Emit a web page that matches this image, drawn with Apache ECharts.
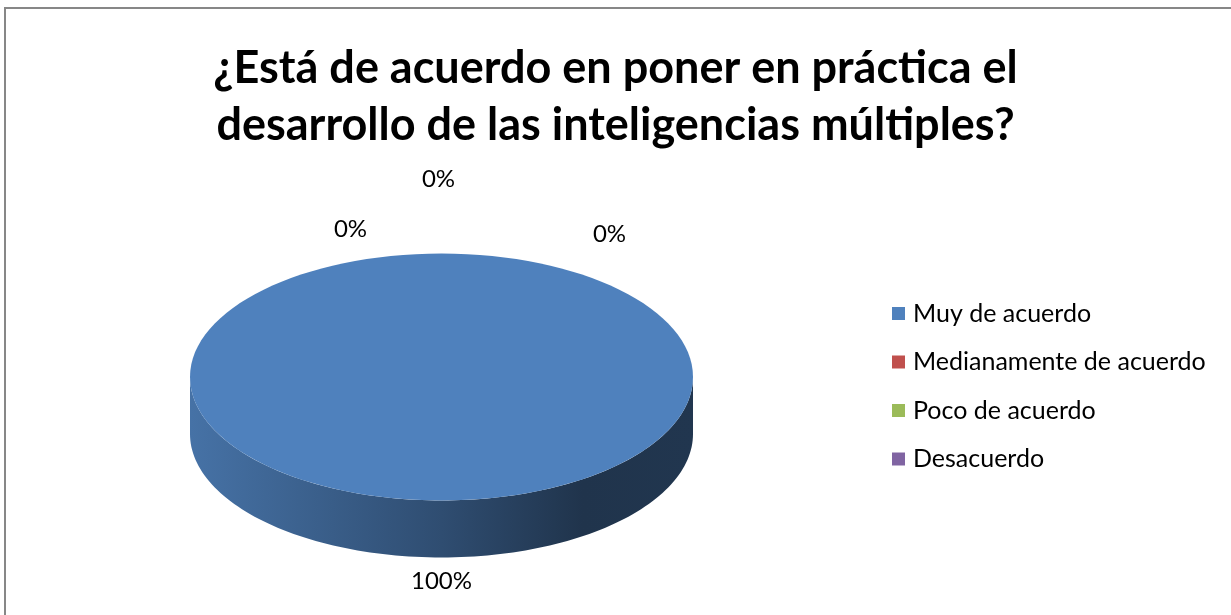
<!DOCTYPE html>
<html>
<head>
<meta charset="UTF-8">
<title>Inteligencias múltiples</title>
<script src="https://cdn.jsdelivr.net/npm/echarts@6/dist/echarts.min.js"></script>
<style>
    html, body {
        margin: 0;
        padding: 0;
        background: #fff;
    }

    #chart {
        width: 1231px;
        height: 615px;
    }
</style>
</head>
<body>
<div id="chart"></div>
<script>
    var titleText = '¿Está de acuerdo en poner en práctica el\ndesarrollo de las inteligencias múltiples?';
    var categories = ['Muy de acuerdo', 'Medianamente de acuerdo', 'Poco de acuerdo', 'Desacuerdo'];
    var values = [100, 0, 0, 0];
    var colors = ['#4f81bd', '#c0504d', '#9bbb59', '#8064a2'];

    // flattened 3d pie, in pixels
    var pie = {cx: 441.5, cy: 377, rx: 251.5, ry: 123.5, depth: 57};
    // Excel pushes the overlapping labels of the zero slices apart
    var labelNudge = [[0, 0], [-91, 0], [-3, -50], [168, 5]];

    var total = values.reduce(function (a, b) { return a + b; }, 0);

    function shade(hex, k) {
        var n = parseInt(hex.slice(1), 16);
        var r = Math.round(((n >> 16) & 255) * k);
        var g = Math.round(((n >> 8) & 255) * k);
        var b = Math.round((n & 255) * k);
        return 'rgb(' + r + ',' + g + ',' + b + ')';
    }

    function pt(a, dy) {
        return [pie.cx + pie.rx * Math.cos(a), pie.cy + pie.ry * Math.sin(a) + (dy || 0)];
    }

    function renderSlice(params, api) {
        var i = params.seriesIndex;
        var v = api.value(0);
        var before = 0;
        for (var j = 0; j < i; j++) before += values[j];
        var a0 = -Math.PI / 2 + before / total * Math.PI * 2;
        var a1 = a0 + v / total * Math.PI * 2;
        var color = colors[i];
        var children = [];
        var k, n = 120;

        if (a1 > a0) {
            // side wall: only the front half is visible
            var lo = Math.max(a0, 0), hi = Math.min(a1, Math.PI);
            if (hi > lo) {
                var side = [];
                for (k = 0; k <= n; k++) side.push(pt(lo + (hi - lo) * k / n));
                for (k = n; k >= 0; k--) side.push(pt(lo + (hi - lo) * k / n, pie.depth));
                children.push({
                    type: 'polygon',
                    shape: {points: side},
                    style: {
                        fill: new echarts.graphic.LinearGradient(0, 0, 1, 0, [
                            {offset: 0, color: shade(color, 0.88)},
                            {offset: 0.5, color: shade(color, 0.6)},
                            {offset: 0.78, color: shade(color, 0.4)},
                            {offset: 1, color: shade(color, 0.42)}
                        ])
                    }
                });
            }
            // top face
            if (a1 - a0 >= Math.PI * 2 - 1e-9) {
                children.push({
                    type: 'ellipse',
                    shape: {cx: pie.cx, cy: pie.cy, rx: pie.rx, ry: pie.ry},
                    style: {fill: color}
                });
            } else {
                var top = [[pie.cx, pie.cy]];
                for (k = 0; k <= n; k++) top.push(pt(a0 + (a1 - a0) * k / n));
                children.push({type: 'polygon', shape: {points: top}, style: {fill: color}});
            }
        }

        // percentage label outside the slice
        var mid = (a0 + a1) / 2;
        var s = Math.sin(mid);
        var lx = pie.cx + (pie.rx + 30) * Math.cos(mid) + labelNudge[i][0];
        var ly = pie.cy + (pie.ry + 24) * s + (s > 0 ? pie.depth : 0) + labelNudge[i][1];
        children.push({
            type: 'text',
            x: lx,
            y: ly,
            style: {
                text: Math.round(v / total * 100) + '%',
                fill: '#000',
                fontSize: 24,
                fontFamily: 'Lato',
                align: 'center',
                verticalAlign: 'middle'
            }
        });
        return {type: 'group', children: children};
    }

    var series = categories.map(function (name, i) {
        return {
            type: 'custom',
            name: name,
            coordinateSystem: 'none',
            renderItem: renderSlice,
            itemStyle: {color: colors[i]},
            data: [values[i]],
            z: i === 0 ? 2 : 3
        };
    });

    var chart = echarts.init(document.getElementById('chart'), null, {renderer: 'canvas'});
    chart.setOption({
        animation: false,
        backgroundColor: '#fff',
        title: {
            text: titleText,
            left: 'center',
            top: 40,
            padding: [0, 0, 0, 20],
            textStyle: {
                fontFamily: 'Lato',
                fontWeight: 'bold',
                fontSize: 45,
                lineHeight: 57,
                color: '#000'
            }
        },
        legend: {
            data: categories,
            orient: 'vertical',
            left: 892,
            top: 299,
            padding: 0,
            icon: 'rect',
            itemWidth: 13,
            itemHeight: 13,
            itemGap: 19.5,
            textStyle: {
                fontFamily: 'Lato',
                fontSize: 25,
                lineHeight: 29,
                color: '#000',
                padding: [0, 0, 0, 3]
            }
        },
        graphic: [{
            type: 'rect',
            shape: {x: 5, y: 8, width: 1400, height: 800},
            style: {fill: 'none', stroke: '#878787', lineWidth: 2},
            silent: true
        }],
        series: series
    });
</script>
</body>
</html>
